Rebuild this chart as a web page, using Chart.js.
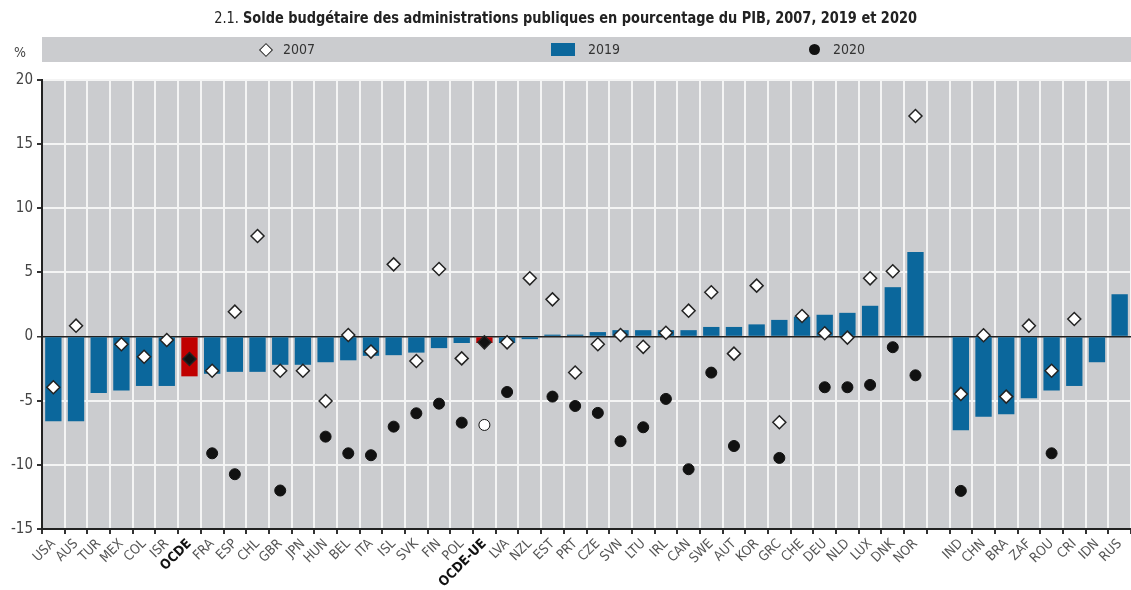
<!DOCTYPE html>
<html lang="fr">
<head>
<meta charset="utf-8">
<title>Solde budgétaire</title>
<script src="https://cdn.jsdelivr.net/npm/chart.js@4.4.1/dist/chart.umd.min.js"></script>
<style>
    body { margin: 0; background: #fff; font-family: 'Liberation Sans Narrow', 'DejaVu Sans Condensed', sans-serif; }
    #cadre { position: relative; width: 1131px; height: 590px; overflow: hidden; }
    #graphe { position: absolute; left: 0; top: 0; }
    #titre { position: absolute; left: 0; top: 8px; width: 1131px; text-align: center; font-size: 16px; color: #222; transform: scaleX(0.9); transform-origin: 566px 0; }
    #titre b { font-weight: bold; }
    #pct { position: absolute; left: 14px; top: 44px; font-size: 14px; color: #444; }
    #legende { position: absolute; left: 42px; top: 37px; width: 1089px; height: 25px; background: #cbcccf; }
    .txt { position: absolute; top: 0; line-height: 25px; font-size: 14px; color: #333; }
    .losange { position: absolute; left: 219px; top: 8px; width: 8px; height: 8px; background: #fff; border: 1.5px solid #222; transform: rotate(45deg); }
    .carre { position: absolute; left: 509px; top: 6px; width: 24px; height: 13px; background: #0b679c; }
    .rond { position: absolute; left: 767px; top: 7px; width: 11px; height: 11px; border-radius: 50%; background: #111; }
</style>
</head>
<body>
<div id="cadre">
    <canvas id="graphe" width="1131" height="590"></canvas>
    <div id="titre">2.1. <b>Solde budgétaire des administrations publiques en pourcentage du PIB, 2007, 2019 et 2020</b></div>
    <div id="pct">%</div>
    <div id="legende">
        <div class="losange"></div><div class="txt" style="left:241px">2007</div>
        <div class="carre"></div><div class="txt" style="left:546px">2019</div>
        <div class="rond"></div><div class="txt" style="left:791px">2020</div>
    </div>
</div>
<script>
// Pays (la case vide sépare OCDE des pays partenaires)
var pays = ['USA', 'AUS', 'TUR', 'MEX', 'COL', 'ISR', 'OCDE', 'FRA', 'ESP', 'CHL',
    'GBR', 'JPN', 'HUN', 'BEL', 'ITA', 'ISL', 'SVK', 'FIN', 'POL', 'OCDE-UE',
    'LVA', 'NZL', 'EST', 'PRT', 'CZE', 'SVN', 'LTU', 'IRL', 'CAN', 'SWE',
    'AUT', 'KOR', 'GRC', 'CHE', 'DEU', 'NLD', 'LUX', 'DNK', 'NOR', '',
    'IND', 'CHN', 'BRA', 'ZAF', 'ROU', 'CRI', 'IDN', 'RUS'];

var solde2019 = [-6.6, -6.6, -4.4, -4.2, -3.85, -3.85, -3.1, -2.9, -2.75, -2.75,
    -2.2, -2.2, -2.0, -1.85, -1.5, -1.45, -1.25, -0.9, -0.5, -0.5,
    -0.5, -0.2, 0.15, 0.15, 0.35, 0.5, 0.5, 0.5, 0.5, 0.75,
    0.75, 0.95, 1.3, 1.55, 1.7, 1.85, 2.4, 3.85, 6.6, null,
    -7.3, -6.25, -6.05, -4.8, -4.2, -3.85, -2.0, 3.3];

var solde2007 = [-3.95, 0.85, null, -0.6, -1.57, -0.27, -1.75, -2.66, 1.94, 7.84,
    -2.66, -2.66, -5.02, 0.12, -1.17, 5.63, -1.9, 5.27, -1.7, -0.45,
    -0.45, 4.54, 2.9, -2.8, -0.6, 0.12, -0.8, 0.3, 2.02, 3.45,
    -1.33, 3.97, -6.68, 1.6, 0.26, -0.08, 4.54, 5.09, 17.19, null,
    -4.47, 0.1, -4.68, 0.85, -2.66, 1.37, null, null];

var solde2020 = [null, null, null, null, null, null, null, -9.1, -10.73, null,
    -12.0, null, -7.8, -9.1, -9.25, -7.02, -5.98, -5.23, -6.71, -6.89,
    -4.32, null, -4.68, -5.41, -5.95, -8.16, -7.07, -4.86, -10.34, -2.81,
    -8.53, null, -9.46, null, -3.95, -3.95, -3.77, -0.83, -3.02, null,
    -12.03, null, null, null, -9.1, null, null, null];

var ticksY = [-15, -10, -5, 0, 5, 10, 15, 20];

var agregats = ['OCDE', 'OCDE-UE'];
var police = "'Liberation Sans Narrow', 'DejaVu Sans Condensed', sans-serif";

function estAgregat(i) {
    return agregats.indexOf(pays[i]) >= 0;
}

// fond gris de la zone du graphique
var fondGris = {
    id: 'fondGris',
    beforeDraw: function (chart) {
        var ctx = chart.ctx, a = chart.chartArea;
        ctx.save();
        ctx.fillStyle = '#cbcccf';
        ctx.fillRect(a.left, a.top, a.right - a.left, a.bottom - a.top);
        ctx.restore();
    }
};

var ctx = document.getElementById('graphe').getContext('2d');
var monGraphe = new Chart(ctx, {
    type: 'bar',
    data: {
        labels: pays,
        datasets: [{
            label: '2019',
            data: solde2019,
            backgroundColor: pays.map(function (p, i) { return estAgregat(i) ? '#c00000' : '#0b679c'; }),
            borderWidth: 0,
            categoryPercentage: 0.72,
            barPercentage: 1,
            order: 3
        }, {
            type: 'line',
            label: '2007',
            data: solde2007,
            showLine: false,
            pointStyle: 'rectRot',
            pointRadius: 6.5,
            pointBorderWidth: 1.5,
            pointBorderColor: '#222',
            pointBackgroundColor: pays.map(function (p, i) { return estAgregat(i) ? '#111' : '#fff'; }),
            order: 2
        }, {
            type: 'line',
            label: '2020',
            data: solde2020,
            showLine: false,
            pointStyle: 'circle',
            pointRadius: 5.5,
            pointBorderWidth: 1,
            pointBorderColor: '#111',
            pointBackgroundColor: pays.map(function (p, i) { return estAgregat(i) ? '#fff' : '#111'; }),
            order: 1
        }]
    },
    options: {
        responsive: false,
        animation: false,
        layout: { autoPadding: false, padding: { top: 80, left: 0, right: 0, bottom: 0 } },
        plugins: {
            legend: { display: false },
            tooltip: { enabled: false }
        },
        scales: {
            x: {
                offset: true,
                grid: { offset: true, color: '#f4f4f4', lineWidth: 2, tickColor: '#333', tickLength: 5, drawOnChartArea: true },
                border: { color: '#222', width: 2 },
                ticks: {
                    autoSkip: false,
                    maxRotation: 45,
                    minRotation: 45,
                    padding: 2,
                    color: function (c) { return agregats.indexOf(pays[c.index]) >= 0 ? '#111' : '#555'; },
                    font: function (c) {
                        var gras = agregats.indexOf(pays[c.index]) >= 0;
                        return { family: police, size: 13.5, weight: gras ? 'bold' : 'normal' };
                    }
                },
                afterFit: function (scale) {
                    scale.height = 61;
                    scale.paddingLeft = 0;
                    scale.paddingRight = 0;
                }
            },
            y: {
                min: -15,
                max: 20,
                afterBuildTicks: function (scale) {
                    scale.ticks = ticksY.map(function (v) { return { value: v }; });
                },
                grid: {
                    color: function (c) { return c.tick && c.tick.value === 0 ? '#222' : '#f4f4f4'; },
                    lineWidth: function (c) { return c.tick && c.tick.value === 0 ? 1.5 : 2; },
                    tickColor: '#333',
                    tickLength: 5
                },
                border: { color: '#222', width: 2 },
                ticks: {
                    color: '#444',
                    padding: 4,
                    font: { family: police, size: 15 }
                },
                afterFit: function (scale) { scale.width = 42; }
            }
        }
    },
    plugins: [fondGris]
});
</script>
</body>
</html>
